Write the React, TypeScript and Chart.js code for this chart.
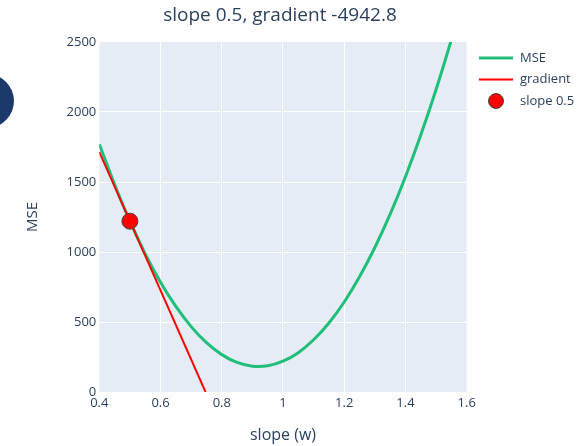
import React, { useEffect, useRef } from "react";
import { Chart, registerables } from "chart.js";

Chart.register(...registerables);

const slopes = [0.4, 0.45, 0.5, 0.55, 0.6, 0.65, 0.7, 0.75, 0.8, 0.85, 0.9, 0.95, 1.0, 1.05, 1.1, 1.15, 1.2, 1.25, 1.3, 1.35, 1.4, 1.45, 1.5, 1.55, 1.6];
const mseValues = [1770, 1482, 1220, 987, 784, 611, 467, 352, 267, 211, 184, 187, 220, 281, 373, 493, 643, 823, 1032, 1270, 1538, 1835, 2161, 2517, 2903];
const gradientX = [0.4, 0.747];
const gradientY = [1714, 0];
const pointX = [0.5];
const pointY = [1220];
const xTicks = [0.4, 0.6, 0.8, 1, 1.2, 1.4, 1.6];
const yTicks = [0, 500, 1000, 1500, 2000, 2500];
const seriesNames = ["MSE", "gradient", "slope 0.5"];
const titleText = "slope 0.5, gradient -4942.8";

const GREEN = "#1fbf7a";
const RED = "#ff0000";
const TEXT = "#2a3f5f";
const FONT = "'Open Sans', 'Noto Sans', sans-serif";

export default function App() {
  const ref = useRef<HTMLCanvasElement | null>(null);

  useEffect(() => {
    if (!ref.current) return;
    const bgPlugin = {
      id: "plotbg",
      beforeDraw(chart: any) {
        const { ctx, chartArea } = chart;
        ctx.save();
        ctx.fillStyle = "#e5ecf6";
        ctx.fillRect(chartArea.left, chartArea.top, chartArea.right - chartArea.left, chartArea.bottom - chartArea.top);
        ctx.restore();
      },
      afterDraw(chart: any) {
        const { ctx } = chart;
        ctx.save();
        ctx.fillStyle = TEXT;
        ctx.font = `19px ${FONT}`;
        ctx.textAlign = "center";
        ctx.textBaseline = "middle";
        ctx.fillText(titleText, 280, 16);

        const ds = chart.data.datasets;
        const lx0 = 479, lx1 = 513, tx = 520;
        const rows = [58, 79.5, 101];
        ctx.font = `13px ${FONT}`;
        ctx.textAlign = "left";
        for (let i = 0; i < 3; i++) {
          const y = rows[i];
          if (i < 2) {
            ctx.strokeStyle = ds[i].borderColor;
            ctx.lineWidth = ds[i].borderWidth;
            ctx.beginPath();
            ctx.moveTo(lx0, y);
            ctx.lineTo(lx1, y);
            ctx.stroke();
          } else {
            ctx.fillStyle = ds[i].backgroundColor;
            ctx.strokeStyle = ds[i].borderColor;
            ctx.lineWidth = 1;
            ctx.beginPath();
            ctx.arc(496, y, 7.5, 0, Math.PI * 2);
            ctx.fill();
            ctx.stroke();
          }
          ctx.fillStyle = TEXT;
          ctx.fillText(ds[i].label, tx, y);
        }
        ctx.restore();
      },
    };

    const chart = new Chart(ref.current, {
      type: "scatter",
      data: {
        datasets: [
          {
            label: seriesNames[0],
            data: slopes.map((x, i) => ({ x, y: mseValues[i] })),
            showLine: true,
            borderColor: GREEN,
            backgroundColor: GREEN,
            borderWidth: 3,
            pointRadius: 0,
            tension: 0.3,
            order: 3,
          },
          {
            label: seriesNames[1],
            data: gradientX.map((x, i) => ({ x, y: gradientY[i] })),
            showLine: true,
            borderColor: RED,
            backgroundColor: RED,
            borderWidth: 2,
            pointRadius: 0,
            order: 2,
          },
          {
            label: seriesNames[2],
            data: pointX.map((x, i) => ({ x, y: pointY[i] })),
            showLine: false,
            borderColor: "#444444",
            backgroundColor: RED,
            borderWidth: 1,
            pointRadius: 8,
            order: 1,
          },
        ],
      },
      options: {
        responsive: false,
        animation: false,
        layout: { padding: { left: 0, right: 116.3, top: 42, bottom: 0 } },
        plugins: { legend: { display: false }, title: { display: false }, tooltip: { enabled: false } },
        scales: {
          x: {
            type: "linear",
            min: 0.4,
            max: 1.6,
            afterBuildTicks: (s: any) => { s.ticks = xTicks.map((v) => ({ value: v })); },
            afterFit: (s: any) => { s.height = 54; },
            ticks: {
              color: TEXT,
              font: { family: FONT, size: 13 },
              padding: 3,
              maxRotation: 0,
              callback: (v: any) => String(Number(Number(v).toFixed(2))),
            },
            grid: {
              drawTicks: false,
              color: (c: any) => (c.tick && (c.tick.value === 0.4 || c.tick.value === 1.6) ? "rgba(0,0,0,0)" : "#ffffff"),
              lineWidth: 1,
            },
            border: { display: false },
            title: { display: true, text: "slope (w)", color: TEXT, font: { family: FONT, size: 16 }, padding: { top: 0, bottom: 1.4 } },
          },
          y: {
            type: "linear",
            min: 0,
            max: 2500,
            afterBuildTicks: (s: any) => { s.ticks = yTicks.map((v) => ({ value: v })); },
            afterFit: (s: any) => { s.width = 99.3; },
            ticks: {
              color: TEXT,
              font: { family: FONT, size: 13 },
              padding: 3,
              callback: (v: any) => String(v),
            },
            grid: {
              drawTicks: false,
              color: (c: any) => (c.tick && (c.tick.value === 2500 || c.tick.value === 0) ? "rgba(0,0,0,0)" : "#ffffff"),
              lineWidth: 1,
            },
            border: { display: false },
            title: { display: true, text: "MSE", color: TEXT, font: { family: FONT, size: 15 }, padding: { top: 24, bottom: 0 } },
          },
        },
      },
      plugins: [bgPlugin],
    });
    return () => chart.destroy();
  }, []);

  return (
    <div style={{ position: "absolute", left: 0, top: 0, width: 583, height: 446, overflow: "hidden", background: "#fff" }}>
      <div style={{ position: "absolute", left: -40, top: 74, width: 54, height: 54, borderRadius: "50%", background: "#1b3a6b" }} />
      <canvas ref={ref} width={583} height={446} style={{ position: "absolute", left: 0, top: 0, width: 583, height: 446 }} />
    </div>
  );
}
